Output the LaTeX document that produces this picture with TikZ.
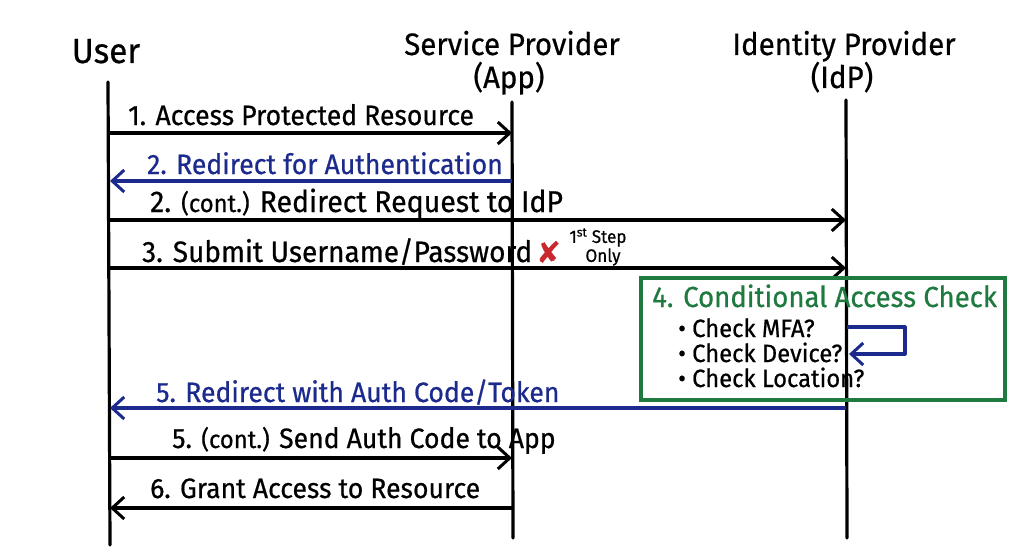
\documentclass[tikz,border=0pt]{standalone}
\usepackage{fontspec}
\setmainfont{Fira Sans}[FakeStretch=0.95,FakeBold=0.6]
\newfontfamily\symfont{DejaVu Sans}
\usetikzlibrary{arrows.meta}
\definecolor{navy}{HTML}{1B2A8C}
\definecolor{cgreen}{HTML}{1F7A40}
\definecolor{xred}{HTML}{C8282E}
\begin{document}
\begin{tikzpicture}[x=1pt,y=-1pt,
  life/.style={line width=3.2pt,line cap=round},
  msg/.style={line width=3.2pt,-{Straight Barb[length=12pt,width=22pt,line width=3pt]}},
  navymsg/.style={msg,draw=navy},
  head/.style={font=\fontsize{31}{33}\selectfont,inner sep=0pt},
  lbl/.style={font=\fontsize{28}{30}\selectfont,inner sep=0pt,anchor=base west},
  small/.style={font=\fontsize{18}{18}\selectfont,inner sep=0pt},
  bullet/.style={font=\fontsize{25}{27}\selectfont,inner sep=0pt,anchor=base west},
]
\useasboundingbox[fill=white] (0,0) rectangle (1024,559);

% headers
\node[head,anchor=base,font=\fontsize{35}{37}\selectfont] (huser) at (106,63) {User};
\node[head,anchor=base] (hsp) at (512,55) {Service Provider};
\node[head,anchor=base] (hsp2) at (509,88) {(App)};
\node[head,anchor=base] (hidp) at (844,55) {Identity Provider};
\node[head,anchor=base] (hidp2) at (842,88) {(IdP)};

% lifelines
\coordinate (ut) at (108,82);  \coordinate (ub) at (110,545);
\coordinate (st) at (512,102); \coordinate (sb) at (513,538);
\coordinate (it) at (846,100); \coordinate (ib) at (847,538);
\draw[life] (ut) -- (ub);
\draw[life] (st) -- (sb);
\draw[life] (it) -- (ib);

% message end points
\coordinate (u1) at (110,133); \coordinate (s1) at (512,133);
\coordinate (u2) at (110,181); \coordinate (s2) at (512,181);
\coordinate (u3) at (110,220); \coordinate (i3) at (846,220);
\coordinate (u4) at (110,268); \coordinate (i4) at (846,268);
\coordinate (u5) at (110,408); \coordinate (i5) at (846,408);
\coordinate (u6) at (110,458); \coordinate (s6) at (512,458);
\coordinate (u7) at (110,508); \coordinate (s7) at (512,508);

\draw[msg] (u1) -- (s1);
\node[lbl] (m1) at (128,125) {1. Access Protected Resource};
\draw[navymsg] (s2) -- (u2);
\node[lbl,text=navy] (m2) at (147,174) {2. Redirect for Authentication};
\draw[msg] (u3) -- (i3);
\node[lbl,font=\fontsize{30}{32}\selectfont] (m3) at (150,212) {2. {\fontsize{25}{27}\selectfont(cont.)} Redirect Request to IdP};
\draw[msg] (u4) -- (i4);
\node[lbl,font=\fontsize{29.5}{31}\selectfont] (m4) at (142,262) {3. Submit Username/Password};
\node[text=xred,inner sep=0pt,font=\symfont\fontsize{30}{30}\selectfont] (xmark) at (549,252) {✘};
\node[small,align=center] (first) at (598,247) {1\textsuperscript{st} Step\\[1pt]\hspace*{10pt}Only};

% conditional access box
\draw[cgreen,line width=3.2pt] (641,278) rectangle (1005,400);
\node[lbl,text=cgreen,font=\fontsize{29}{31}\selectfont] (cac) at (652,307) {4. Conditional Access Check};
\node[bullet] (b1) at (678,337) {• Check MFA?};
\node[bullet] (b2) at (678,362) {• Check Device?};
\node[bullet] (b3) at (678,387) {• Check Location?};
\coordinate (l1) at (847,327);
\coordinate (l2) at (905,327);
\coordinate (l3) at (905,354);
\coordinate (l4) at (849,354);
\draw[navymsg,line join=round] (l1) -- (l2) -- (l3) -- (l4);

\draw[navymsg] (i5) -- (u5);
\node[lbl,text=navy] (m5) at (156,402) {5. Redirect with Auth Code/Token};
\draw[msg] (u6) -- (s6);
\node[lbl] (m6) at (172,448) {5. {\fontsize{25}{27}\selectfont(cont.)} Send Auth Code to App};
\draw[msg] (s7) -- (u7);
\node[lbl] (m7) at (150,498) {6. Grant Access to Resource};
\end{tikzpicture}
\end{document}
